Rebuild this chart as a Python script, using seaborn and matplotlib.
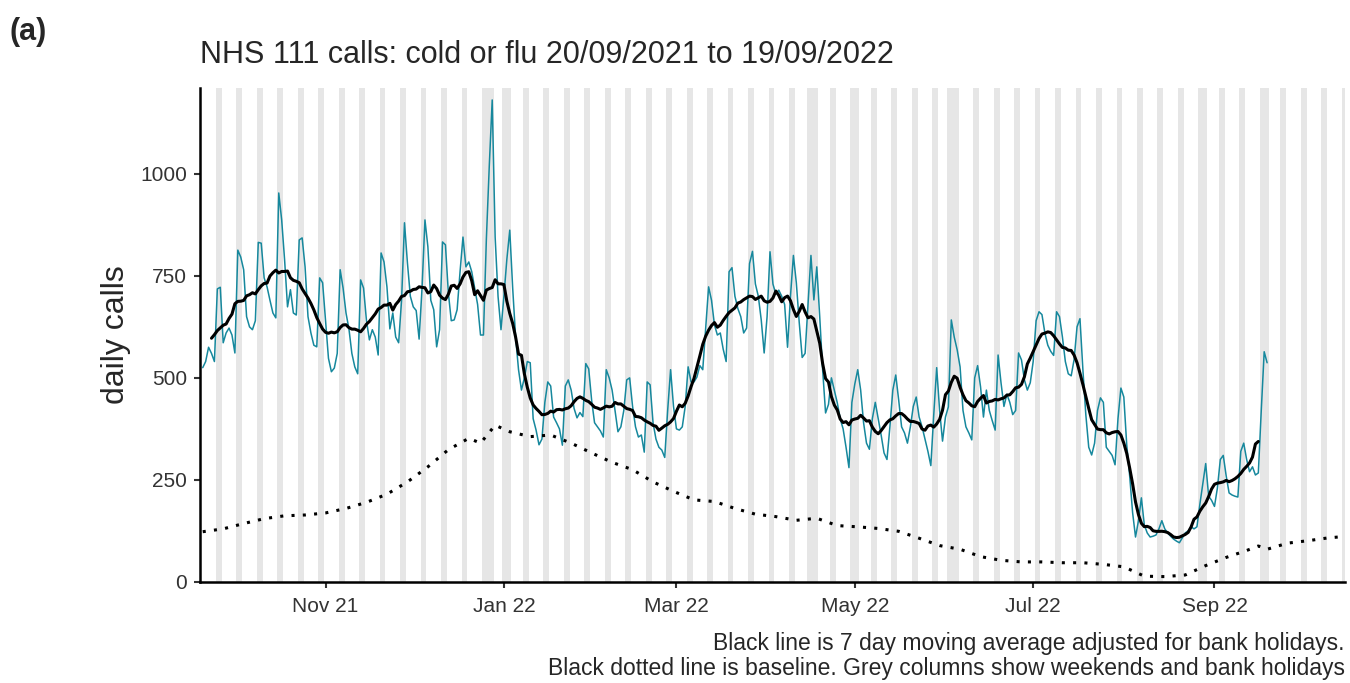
import pandas as pd
import numpy as np
import seaborn as sns
import matplotlib
matplotlib.use('Agg')
import matplotlib.pyplot as plt
import matplotlib.dates as mdates

start_date = '2021-09-20'

# daily NHS 111 calls, one row per week (Mon..Sun)
daily_calls = [
    525, 540, 575, 560, 540, 718, 722,
    586, 610, 622, 605, 561, 813, 796,
    765, 650, 625, 618, 640, 832, 830,
    745, 723, 690, 659, 647, 953, 887,
    789, 674, 716, 659, 654, 838, 843,
    772, 650, 610, 580, 576, 745, 733,
    640, 548, 515, 524, 560, 765, 720,
    659, 620, 560, 527, 510, 740, 720,
    640, 593, 618, 600, 556, 806, 784,
    723, 620, 659, 600, 586, 690, 880,
    782, 700, 674, 665, 595, 720, 887,
    821, 690, 667, 576, 618, 833, 826,
    708, 640, 642, 667, 760, 845, 772,
    784, 760, 720, 680, 605, 605, 840,
    1020, 1181, 845, 699, 618, 700, 790,
    862, 720, 600, 520, 470, 500, 540,
    537, 400, 372, 336, 350, 440, 490,
    480, 404, 390, 375, 335, 480, 495,
    470, 425, 402, 415, 405, 535, 522,
    445, 390, 380, 370, 355, 520, 500,
    470, 420, 368, 380, 420, 495, 500,
    430, 380, 355, 360, 318, 490, 483,
    390, 350, 330, 323, 305, 420, 520,
    430, 375, 372, 380, 430, 527, 490,
    490, 502, 530, 520, 620, 723, 690,
    630, 605, 610, 570, 540, 760, 770,
    700, 670, 650, 610, 622, 780, 810,
    730, 700, 642, 561, 650, 809, 730,
    705, 715, 700, 680, 575, 700, 800,
    733, 635, 550, 560, 680, 800, 691,
    772, 650, 520, 414, 435, 500, 470,
    439, 400, 375, 330, 280, 440, 485,
    520, 470, 390, 340, 325, 400, 440,
    400, 360, 316, 300, 380, 470, 507,
    446, 380, 365, 340, 380, 430, 453,
    404, 380, 350, 320, 285, 410, 525,
    420, 345, 404, 429, 642, 600, 569,
    527, 420, 380, 365, 348, 500, 530,
    478, 404, 470, 420, 395, 372, 556,
    488, 430, 460, 440, 410, 420, 561,
    544, 495, 470, 488, 540, 640, 662,
    655, 610, 580, 565, 555, 662, 650,
    600, 540, 510, 505, 545, 625, 645,
    520, 410, 330, 311, 340, 420, 451,
    440, 330, 320, 310, 287, 400, 475,
    453, 335, 260, 170, 110, 150, 206,
    140, 120, 110, 112, 115, 130, 150,
    130, 120, 112, 105, 100, 96, 108,
    120, 125, 135, 130, 135, 190, 240,
    290, 210, 200, 185, 230, 300, 310,
    260, 218, 213, 210, 208, 320, 340,
    300, 270, 282, 262, 267, 420, 564,
    537,
]

# baseline: days after start date and value
baseline_days = [0, 7, 14, 21, 28, 35, 42, 49, 56, 63, 70, 77, 84, 91, 95, 100,
                 105, 112, 119, 126, 133, 140, 147, 154, 161, 168, 175, 182, 189,
                 196, 203, 210, 217, 224, 231, 238, 245, 252, 259, 266, 273, 280,
                 287, 294, 301, 308, 315, 322, 329, 336, 343, 350, 357, 361, 364,
                 371, 378, 385, 390]
baseline_vals = [123, 130, 143, 155, 162, 164, 169, 180, 195, 215, 245, 282, 324,
                 352, 340, 384, 368, 356, 360, 340, 316, 293, 275, 245, 222, 201,
                 197, 180, 166, 160, 151, 156, 138, 135, 131, 124, 107, 89, 80,
                 62, 53, 49, 49, 47, 47, 43, 37, 14, 13, 17, 40, 60, 77, 88, 80,
                 95, 101, 108, 111]

bank_holidays = ['2021-12-27', '2021-12-28', '2022-01-03', '2022-04-15',
                 '2022-04-18', '2022-05-02', '2022-06-02', '2022-06-03',
                 '2022-08-29', '2022-09-19']

x_start = pd.Timestamp('2021-09-19')
x_end = pd.Timestamp('2022-10-15 12:00')
y_top = 1210

df = pd.DataFrame({
    'date': pd.date_range(start_date, periods=len(daily_calls)),
    'calls': daily_calls,
})
bh = pd.to_datetime(bank_holidays)
# 7 day moving average, bank holidays left out of the window
adj = df['calls'].where(~df['date'].isin(bh))
full = df['calls'].rolling(7, center=True).count() == 7
df['ma7'] = adj.rolling(7, center=True, min_periods=1).mean().where(full)

base = pd.DataFrame({
    'date': pd.Timestamp(start_date) + pd.to_timedelta(baseline_days, unit='D'),
    'baseline': baseline_vals,
})

all_days = pd.date_range(x_start, x_end)
grey_days = all_days[(all_days.dayofweek >= 5) | all_days.isin(bh)]

sns.set_style('ticks')
plt.rcParams['font.family'] = ['Liberation Sans', 'DejaVu Sans']

fig, ax = plt.subplots(figsize=(13.5, 6.83), dpi=100)
fig.subplots_adjust(left=0.148, right=0.996, top=0.871, bottom=0.148)

ax.bar(grey_days, y_top, width=1, color='#e6e6e6', linewidth=0, zorder=0)

sns.lineplot(data=df, x='date', y='calls', ax=ax, color='#16889d', linewidth=1.1, zorder=2)
sns.lineplot(data=df, x='date', y='ma7', ax=ax, color='black', linewidth=2.2, zorder=3)
sns.lineplot(data=base, x='date', y='baseline', ax=ax, color='black', linewidth=2.2,
             linestyle=(0, (1, 2.7)), zorder=3)

ax.set_xlim(x_start, x_end)
ax.set_ylim(0, y_top)
ax.set_yticks([0, 250, 500, 750, 1000])
ax.xaxis.set_major_locator(mdates.MonthLocator(bymonth=[1, 3, 5, 7, 9, 11]))
ax.xaxis.set_major_formatter(mdates.DateFormatter('%b %y'))

sns.despine(ax=ax)
for side in ['left', 'bottom']:
    ax.spines[side].set_linewidth(1.8)
    ax.spines[side].set_color('black')
ax.tick_params(axis='both', labelsize=15, colors='#333333', length=4, width=1.5, pad=5)
ax.tick_params(axis='x', pad=7)

ax.set_xlabel('')
ax.set_ylabel('daily calls', fontsize=23, labelpad=7)
ax.set_title('NHS 111 calls: cold or flu 20/09/2021 to 19/09/2022', loc='left',
             fontsize=22, pad=18)

fig.text(0.007, 0.975, '(a)', fontsize=22, fontweight='bold', va='top', ha='left')
fig.text(0.996, 0.004, 'Black line is 7 day moving average adjusted for bank holidays.\n'
         'Black dotted line is baseline. Grey columns show weekends and bank holidays',
         fontsize=16.5, ha='right', va='bottom', linespacing=1.12)

fig.savefig('out.png', dpi=100)
